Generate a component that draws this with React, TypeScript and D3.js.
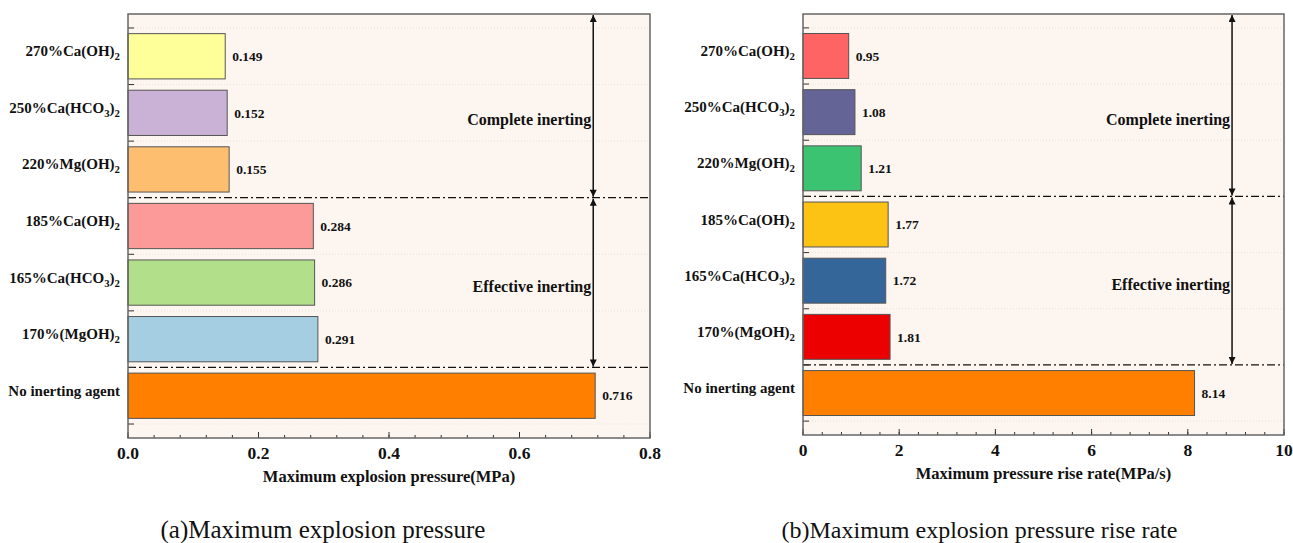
import * as d3 from "d3";
import React from "react";

// categories, top to bottom
const categories = [
  "270%Ca(OH)2",
  "250%Ca(HCO3)2",
  "220%Mg(OH)2",
  "185%Ca(OH)2",
  "165%Ca(HCO3)2",
  "170%(MgOH)2",
  "No inerting agent",
];

const pressureValues = [0.149, 0.152, 0.155, 0.284, 0.286, 0.291, 0.716];
const riseRateValues = [0.95, 1.08, 1.21, 1.77, 1.72, 1.81, 8.14];

const pressureColors = ["#ffff99", "#cab2d6", "#fdbf6f", "#fb9a99", "#b2df8a", "#a6cee3", "#ff7f00"];
const riseRateColors = ["#fe6464", "#646497", "#3cc372", "#fdc314", "#34669a", "#ec0000", "#ff8000"];

const pressureTicks = [0, 0.2, 0.4, 0.6, 0.8];
const riseRateTicks = [0, 2, 4, 6, 8, 10];

const FONT = "'Liberation Serif', 'Times New Roman', serif";

// split "Ca(HCO3)2" into normal / subscript parts
const renderFormula = (label: string) => {
  const parts: { t: string; sub: boolean }[] = [];
  for (let i = 0; i < label.length; i++) {
    const ch = label[i];
    const sub = /\d/.test(ch) && i > 0 && /[A-Za-z)]/.test(label[i - 1]);
    const last = parts[parts.length - 1];
    if (last && last.sub === sub && !sub) last.t += ch;
    else parts.push({ t: ch, sub });
  }
  return parts.map((p, i) =>
    p.sub ? (
      <tspan key={i} fontSize="0.72em" dy="4">
        {p.t}
      </tspan>
    ) : (
      <tspan key={i} dy={i > 0 && parts[i - 1].sub ? -4 : 0}>
        {p.t}
      </tspan>
    )
  );
};

type PanelProps = {
  left: number;
  right: number;
  top: number;
  bottom: number;
  values: number[];
  colors: string[];
  domain: [number, number];
  ticks: number[];
  minorStep: number;
  tickFormat: (v: number) => string;
  valueFormat: (v: number) => string;
  title: string;
  caption: string;
  captionSize: number;
  captionShift: number;
  arrowValue: number;
  id: string;
};

const Panel: React.FC<PanelProps> = ({
  left,
  right,
  top,
  bottom,
  values,
  colors,
  domain,
  ticks,
  minorStep,
  tickFormat,
  valueFormat,
  title,
  caption,
  captionSize,
  captionShift,
  arrowValue,
  id,
}) => {
  const x = d3.scaleLinear().domain(domain).range([left, right]);
  const y = d3
    .scaleBand<string>()
    .domain(categories)
    .range([top, bottom])
    .paddingInner(0.2)
    .paddingOuter(0.347);

  const step = y.step();
  const bw = y.bandwidth();
  const half = (step - bw) / 2;
  const boundaries = categories.map((c) => (y(c) as number) - half);
  boundaries.push((y(categories[categories.length - 1]) as number) + bw + half);

  const minor = d3.range(domain[0], domain[1] + 1e-9, minorStep);
  const ax = x(arrowValue);
  const dash1 = boundaries[3];
  const dash2 = boundaries[6];
  const cx = (left + right) / 2;

  return (
    <g>
      <defs>
        <marker id={`ah-${id}`} viewBox="0 0 10 10" refX="10" refY="5" markerWidth="9" markerHeight="7" orient="auto-start-reverse" markerUnits="userSpaceOnUse">
          <path d="M0,0 L10,5 L0,10 z" fill="#111" />
        </marker>
      </defs>
      <rect x={left} y={top} width={right - left} height={bottom - top} fill="#fdf6f0" />

      {boundaries.map((b, i) =>
        i === 3 || i === 6 ? null : (
          <line key={`g${i}`} x1={left} x2={right} y1={b} y2={b} stroke="#e2dcd6" strokeDasharray="1,2" strokeWidth={0.8} />
        )
      )}

      {categories.map((c, i) => (
        <g key={c}>
          <rect
            x={x(0)}
            y={y(c)}
            width={x(values[i]) - x(0)}
            height={bw}
            fill={colors[i]}
            stroke="#555"
            strokeWidth={1}
          />
          <text
            x={x(values[i]) + 7}
            y={(y(c) as number) + bw / 2}
            dy="0.35em"
            fontFamily={FONT}
            fontWeight="bold"
            fontSize={13.5}
            fill="#111"
          >
            {valueFormat(values[i])}
          </text>
          <text
            x={left - 8}
            y={(y(c) as number) + bw / 2}
            dy="0.3em"
            textAnchor="end"
            fontFamily={FONT}
            fontWeight="bold"
            fontSize={15}
            fill="#111"
          >
            {renderFormula(c)}
          </text>
        </g>
      ))}

      {[dash1, dash2].map((d, i) => (
        <line key={`d${i}`} x1={left} x2={right} y1={d} y2={d} stroke="#111" strokeWidth={1.2} strokeDasharray="8,3,2,3" />
      ))}

      {/* double arrows */}
      <line x1={ax} x2={ax} y1={top + 1} y2={dash1 - 1} stroke="#111" strokeWidth={1.5} markerStart={`url(#ah-${id})`} markerEnd={`url(#ah-${id})`} />
      <line x1={ax} x2={ax} y1={dash1 + 1} y2={dash2 - 1} stroke="#111" strokeWidth={1.5} markerStart={`url(#ah-${id})`} markerEnd={`url(#ah-${id})`} />
      <text x={ax - 2} y={(y(categories[1]) as number) + bw / 2 + 7} dy="0.35em" textAnchor="end" fontFamily={FONT} fontWeight="bold" fontSize={16} fill="#111">
        Complete inerting
      </text>
      <text x={ax - 2} y={(y(categories[4]) as number) + bw / 2 + 4} dy="0.35em" textAnchor="end" fontFamily={FONT} fontWeight="bold" fontSize={16} fill="#111">
        Effective inerting
      </text>

      {/* y ticks inward */}
      {boundaries.map((b, i) => (
        <line key={`yt${i}`} x1={left} x2={left + 6} y1={b} y2={b} stroke="#333" strokeWidth={1} />
      ))}

      {/* x ticks inward */}
      {minor.map((m, i) => (
        <line key={`mt${i}`} x1={x(m)} x2={x(m)} y1={bottom} y2={bottom - 3} stroke="#333" strokeWidth={1} />
      ))}
      {ticks.map((t) => (
        <g key={`t${t}`}>
          <line x1={x(t)} x2={x(t)} y1={bottom} y2={bottom - 6} stroke="#333" strokeWidth={1} />
          <text x={x(t)} y={bottom + 21} textAnchor="middle" fontFamily={FONT} fontWeight="bold" fontSize={17.5} fill="#111">
            {tickFormat(t)}
          </text>
        </g>
      ))}

      <rect x={left} y={top} width={right - left} height={bottom - top} fill="none" stroke="#666" strokeWidth={1.5} />

      <text x={cx} y={bottom + 44} textAnchor="middle" fontFamily={FONT} fontWeight="bold" fontSize={16.5} fill="#111">
        {title}
      </text>
      <text x={cx + captionShift} y={538} textAnchor="middle" fontFamily={FONT} fontSize={captionSize} fill="#111">
        {caption}
      </text>
    </g>
  );
};

const App: React.FC = () => {
  return (
    <svg
      width={1293}
      height={543}
      style={{ position: "absolute", left: 0, top: 0, background: "#fff" }}
    >
      <Panel
        id="a"
        left={128}
        right={650}
        top={14}
        bottom={438}
        values={pressureValues}
        colors={pressureColors}
        domain={[0, 0.8]}
        ticks={pressureTicks}
        minorStep={0.04}
        tickFormat={d3.format(".1f")}
        valueFormat={d3.format(".3f")}
        title="Maximum explosion pressure(MPa)"
        caption="(a)Maximum explosion pressure"
        captionSize={25}
        captionShift={-66}
        arrowValue={0.713}
      />
      <Panel
        id="b"
        left={803}
        right={1284}
        top={14}
        bottom={435}
        values={riseRateValues}
        colors={riseRateColors}
        domain={[0, 10]}
        ticks={riseRateTicks}
        minorStep={0.4}
        tickFormat={d3.format("d")}
        valueFormat={d3.format(".2f")}
        title="Maximum pressure rise rate(MPa/s)"
        caption="(b)Maximum explosion pressure rise rate"
        captionSize={24}
        captionShift={-64}
        arrowValue={8.92}
      />
    </svg>
  );
};

export default App;
